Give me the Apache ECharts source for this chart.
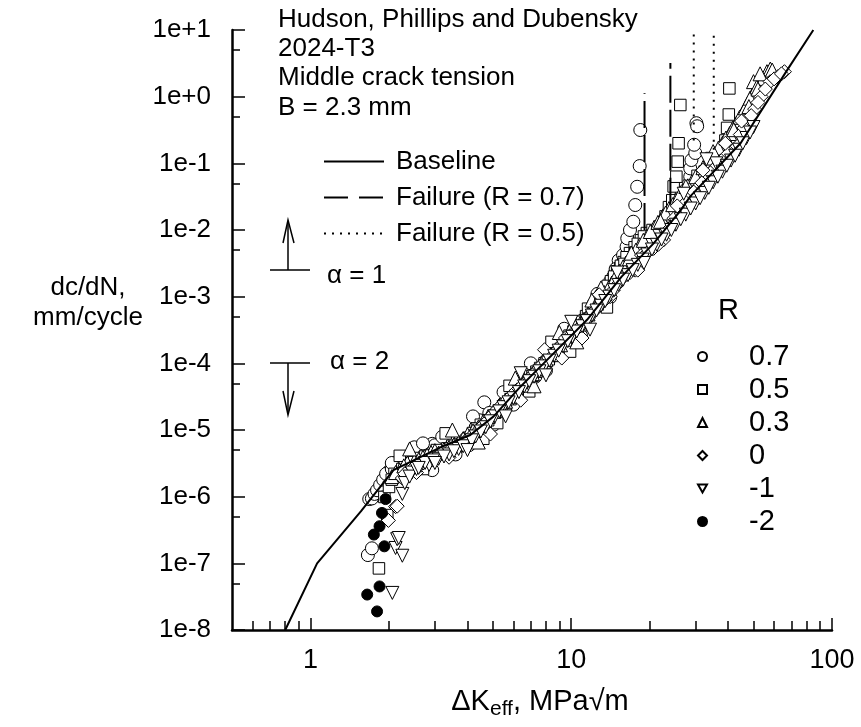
<!DOCTYPE html>
<html>
<head>
<meta charset="utf-8">
<script src="https://cdn.jsdelivr.net/npm/echarts@6/dist/echarts.min.js"></script>
<style>html,body{margin:0;padding:0;background:#fff}#c{width:861px;height:727px}</style>
</head>
<body>
<div id="c"></div>
<script>
// ---- tick values ----
const xTicksMajor = [1, 10, 100];
const xTicksMinor = [0.6, 0.7, 0.8, 0.9, 2, 3, 4, 5, 6, 7, 8, 9, 20, 30, 40, 50, 60, 70, 80, 90];
const yTicksMajor = [1e-8, 1e-7, 1e-6, 1e-5, 1e-4, 1e-3, 1e-2, 1e-1, 1, 10];
const yTicksMinor = [5e-8, 5e-7, 5e-6, 5e-5, 5e-4, 5e-3, 5e-2, 5e-1, 5];

// ---- baseline curve ----
const baseline = [[0.8,1e-8],[1.06,1.0e-7],[1.56,6e-7],[2.08,2.5e-6],[3.15,5.5e-6],[4.1,8.4e-6],[5.04,1.6e-5],[6.4,4.5e-5],[7.16,7e-5],[11.5,4.5e-4],[15.6,2e-3],[20.7,6.3e-3],[26.1,1.9e-2],[28.6,3.2e-2],[44.6,0.2],[67.3,2.5],[84.8,10]];

// ---- failure lines ----
const fail07a = [[19.1,0.01],[19.1,1.13]];
const fail07b = [[24.0,0.024],[24.0,3.2]];
const fail05a = [[29.5,0.22],[29.5,9.5]];
const fail05b = [[35.2,0.16],[35.2,9.5]];

// ---- data, R = 0.7 ----
const r07 = [[1.66,1.33e-7],[1.72,1.68e-7],[1.68,9.2e-7],[1.72,9.4e-7],[1.76,1.1e-6],[1.80,1.25e-6],[1.85,1.5e-6],[1.90,1.8e-6],
[2.0,2.4e-6],[2.1,2.9e-6],[2.2,3.0e-6],[2.3,3.5e-6],[2.45,4.0e-6],[2.6,4.6e-6],[2.76,4.7e-6],[2.93,6.2e-6],[2.93,2.5e-6],[3.1,5.6e-6],[3.3,6.0e-6],[3.5,5.0e-6],[3.8,6.5e-6],[4.05,5.9e-6],[4.3,1.1e-5],[4.64,2.6e-5],[5.04,1.2e-5],[5.3,2.0e-5],[5.8,3.0e-5],[6.34,3.7e-5],[6.8,5.0e-5],[7.28,6.3e-5],[7.8,9e-5],[8.3,1.2e-4],[9.0,1.6e-4],[9.7,2.3e-4],[10.5,3.5e-4],[11.3,4.8e-4],[12.2,7e-4],[13.0,9.5e-4],[13.8,1.4e-3],[14.5,2.0e-3],[15.2,3.5e-3],[15.8,4.2e-3],[16.3,5.6e-3],[16.4,7.5e-3],[16.8,1.0e-2],[17.3,1.33e-2],[17.6,2.37e-2],[17.9,4.45e-2],[18.3,9.1e-2],[18.4,0.316],
[19,5.5e-3],[20.5,8e-3],[22,1.2e-2],[23.5,1.8e-2],[25,2.5e-2],[26.5,3.5e-2],[27.5,4e-2],[28.3,5e-2],[28.6,6.3e-2],[28.6,8.4e-2],[28.9,0.112],[29.9,0.143],[29.6,0.19],[30.2,0.40],[30.4,0.36],
[1.95,2.2e-6],[2.05,2.6e-6],[2.15,3.3e-6],[2.25,2.6e-6],[2.35,3.9e-6],[2.5,3.1e-6],[2.55,4.3e-6],[2.7,5.3e-6],[2.85,4.1e-6],[3.0,5.9e-6],[3.2,4.6e-6],[3.4,6.8e-6],[3.65,5.4e-6],[3.95,7.5e-6],[4.2,8.0e-6],[4.45,1.4e-5],[4.85,1.8e-5],[5.5,2.5e-5],[6.0,3.6e-5],[6.6,5.8e-5],[7.0,7.5e-5],[7.5,8e-5],[8.0,1.1e-4],[8.7,1.5e-4],[9.4,2.1e-4],[10.1,2.9e-4],[10.9,4.3e-4],[11.7,6e-4],[12.6,8.5e-4],[13.4,1.25e-3],[14.1,1.7e-3],[14.8,2.6e-3],[15.5,3.0e-3],
[2.05,3.2e-6],[2.25,2.0e-6],[2.5,5.5e-6],[2.7,6.3e-6],[3.2,7.9e-6],[3.6,4.3e-6],[4.2,1.6e-5],[5.5,3.7e-5],[6.0,2.4e-5],[7.0,1.0e-4],[8.0,7.8e-5],[9.4,3.3e-4],[10.9,2.6e-4],[12.6,1.1e-3],[14.1,9.8e-4]];

// ---- R = 0.5 ----
const r05 = [[1.83,8.4e-8],[1.97,5.3e-7],[1.92,9.9e-7],[2.0,1.4e-6],[2.1,2.2e-6],[2.25,2.6e-6],[2.4,3.0e-6],[2.6,3.8e-6],[2.9,4.2e-6],[3.2,4.6e-6],[3.5,5.8e-6],[3.9,6.2e-6],[4.2,9e-6],[4.5,1.2e-5],[5.2,1.27e-5],[5.6,2.4e-5],[6.1,3.5e-5],[6.6,4.8e-5],[7.1,6.5e-5],[7.6,8.5e-5],[8.2,1.15e-4],[8.8,1.6e-4],[9.5,2.2e-4],[10.2,3.0e-4],[11,4.2e-4],[11.8,6e-4],[12.6,8.5e-4],[13.4,1.2e-3],[14.2,1.7e-3],[15,2.4e-3],[15.9,3.3e-3],[16.8,4.5e-3],[17.5,5.5e-3],[18.5,7e-3],[19.5,9e-3],[20.5,1.0e-2],[21.4,8e-3],[22.3,1.13e-2],[23.0,1.6e-2],[23.7,2.2e-2],[24.4,2.8e-2],[24.7,4.5e-2],[25.3,6.3e-2],[25.6,0.106],[25.8,0.2],[26.2,0.75],
[27,2.8e-2],[29,4e-2],[31,5.5e-2],[33,7.5e-2],[35,0.1],[36.5,0.12],[37.9,0.14],[39,0.22],[39.6,0.34],[40.2,0.54],[40.4,1.33],
[2.05,1.8e-6],[2.3,3.1e-6],[2.5,3.3e-6],[2.75,4.0e-6],[3.05,5.0e-6],[3.35,5.3e-6],[3.7,6.0e-6],[4.05,7.6e-6],[4.35,1.05e-5],[4.8,1.4e-5],[5.4,2.0e-5],[5.85,2.9e-5],[6.35,4.2e-5],[6.85,5.5e-5],[7.35,7.5e-5],[7.9,1.0e-4],[8.5,1.35e-4],[9.2,1.9e-4],[9.85,2.6e-4],[10.6,3.6e-4],[11.4,5.1e-4],[12.2,7.2e-4],[13.0,1.0e-3],[13.8,1.45e-3],[14.6,2.0e-3],[15.5,2.9e-3],[16.3,3.9e-3],[17.6,4.6e-3],[18.0,6.2e-3],[19.0,8e-3],[28,3.4e-2],[30,4.7e-2],[32,6.5e-2],[34,8.7e-2],
[2.2,4.1e-6],[2.7,2.6e-6],[3.3,8.9e-6],[4.6,7.4e-6],[5.8,4.6e-5],[6.9,3.8e-5],[8.4,2.1e-4],[9.9,1.5e-4],[11.6,6.6e-4],[13.7,6.9e-4],[16.0,3.1e-3],[30.5,6.5e-2],[34.5,0.12]];

// ---- R = 0.3 ----
const r03 = [[2.05,2.0e-6],[2.2,2.5e-6],[2.35,3.2e-6],[2.5,3.4e-6],[2.7,3.9e-6],[2.9,4.6e-6],[3.1,4.5e-6],[3.4,5.5e-6],[3.7,6.5e-6],[4.0,8.5e-6],[4.4,1.1e-5],[4.8,1.6e-5],[5.3,2.3e-5],[5.9,3.2e-5],[6.5,4.7e-5],[7.1,7e-5],[7.7,1.0e-4],[8.4,1.35e-4],[9.1,1.9e-4],[9.9,2.7e-4],[10.2,4.0e-4],[10.8,3.9e-4],[11.6,5.5e-4],[12.0,8.9e-4],[12.5,8e-4],[13.4,1.15e-3],[14.3,1.6e-3],[15.3,2.4e-3],[16.2,3.2e-3],[17.2,4.3e-3],[18.3,6e-3],[19.5,8e-3],[20.8,1.1e-2],[22.2,1.5e-2],[23.7,2.1e-2],[25.2,2.8e-2],[27,3.9e-2],[29,5.3e-2],[31,7.3e-2],[33,0.1],[35.5,0.14],[38,0.2],[40.5,0.28],[43,0.4],[45.5,0.58],[47.5,0.8],[49.7,1.1],[50,1.68],[54.6,1.88],[56.3,2.37],[58,2.6],
[2.12,2.3e-6],[2.28,2.9e-6],[2.6,3.6e-6],[2.8,4.2e-6],[3.0,4.9e-6],[3.25,5.1e-6],[3.55,6.0e-6],[3.85,7.4e-6],[4.2,9.7e-6],[4.6,1.35e-5],[5.05,1.9e-5],[5.6,2.7e-5],[6.2,3.9e-5],[6.8,5.7e-5],[7.4,8.3e-5],[8.0,1.15e-4],[8.7,1.6e-4],[9.5,2.3e-4],[11.2,4.6e-4],[12.9,9.6e-4],[13.9,1.35e-3],[14.8,2.0e-3],[15.8,2.8e-3],[16.7,3.7e-3],[17.7,5.0e-3],[18.9,7e-3],[20.1,9.5e-3],[21.5,1.3e-2],[23,1.8e-2],[24.5,2.4e-2],[26,3.3e-2],[28,4.6e-2],[30,6.3e-2],[32,8.6e-2],[34.2,0.12],[36.7,0.17],[39.2,0.24],[41.7,0.34],[44.2,0.49],[46.5,0.68],[48.5,0.95],[51.5,1.4],[53,2.2],[59,2.5],
[2.4,5.2e-6],[3.5,1.0e-5],[4.4,6.6e-6],[6.1,6.0e-5],[7.2,4.6e-5],[9.0,2.9e-4],[10.5,2.1e-4],[13.0,1.35e-3],[17.0,4.5e-3],[22.0,1.35e-2],[27.5,4.5e-2],[35,0.15],[42,0.32],[48,0.71],[52,1.3]];

// ---- R = 0 ----
const r00 = [[1.99,4.4e-7],[2.12,7.1e-7],[2.15,7.2e-7],[2.25,1.9e-6],[2.4,2.6e-6],[2.6,3.0e-6],[2.8,3.5e-6],[3.05,4.0e-6],[3.3,4.9e-6],[3.6,5.6e-6],[3.95,7e-6],[4.3,9e-6],[4.7,1.3e-5],[5.1,1.9e-5],[5.6,2.7e-5],[6.2,4e-5],[6.8,5.5e-5],[7.4,8e-5],[8.0,1.1e-4],[8.7,1.5e-4],[9.5,2.4e-4],[10.3,2.9e-4],[11.2,4e-4],[12,5.6e-4],[13.0,7.8e-4],[14.1,1.0e-3],[15.0,1.5e-3],[16.1,2.1e-3],[17.6,2.5e-3],[18.6,4.2e-3],[20.7,5.3e-3],[22.6,7.1e-3],[23.8,1.05e-2],[24.8,1.5e-2],[26.5,2.1e-2],[28.5,3.1e-2],[30.5,4.3e-2],[33,6e-2],[35.5,8.5e-2],[38.5,0.12],[42,0.16],[43.3,0.18],[44.5,0.27],[47.5,0.42],[50.5,0.65],[53.5,1.0],[57.9,1.68],[62,2.0],[65.7,2.37],
[2.3,2.2e-6],[2.5,2.8e-6],[2.7,3.2e-6],[2.9,3.8e-6],[3.15,4.4e-6],[3.45,5.2e-6],[3.8,6.2e-6],[4.1,7.8e-6],[4.5,1.1e-5],[4.9,1.6e-5],[5.35,2.3e-5],[5.9,3.3e-5],[6.5,4.7e-5],[7.1,6.7e-5],[7.7,9.5e-5],[8.35,1.3e-4],[9.05,1.8e-4],[9.9,2.6e-4],[10.7,3.4e-4],[11.6,4.7e-4],[12.5,6.6e-4],[13.5,9e-4],[14.5,1.25e-3],[15.5,1.8e-3],[16.8,2.3e-3],[19.6,4.6e-3],[21.6,6.1e-3],[27.5,2.6e-2],[29.5,3.7e-2],[31.7,5.1e-2],[34.2,7.2e-2],[37,0.1],[40,0.14],[46,0.34],[49,0.52],[52,0.82],[55.5,1.3],[60,1.85],[64,2.2],
[2.55,2.3e-6],[3.4,3.9e-6],[4.9,8.7e-6],[6.4,2.8e-5],[7.9,1.6e-4],[9.2,1.2e-4],[11.0,2.4e-4],[12.8,1.07e-3],[18.0,2.5e-3],[25.5,2.3e-2],[32,7.9e-2],[39,0.2],[45,0.43]];

// ---- R = -1 ----
const rm1 = [[2.06,3.6e-8],[2.12,1.7e-7],[2.25,1.3e-7],[2.15,2.3e-7],[2.18,2.4e-7],[2.25,1.1e-6],[2.3,1.6e-6],[2.45,2.3e-6],[2.65,2.9e-6],[2.85,3.0e-6],[3.1,3.7e-6],[3.4,4.3e-6],[3.7,5.2e-6],[4.0,6.2e-6],[4.3,8e-6],[4.7,1.1e-5],[5.1,1.6e-5],[5.5,2.2e-5],[6.0,3.0e-5],[6.6,4.5e-5],[7.2,6.3e-5],[7.9,9e-5],[8.6,1.3e-4],[9.3,1.8e-4],[10.1,2.5e-4],[11,3.6e-4],[12,5.2e-4],[13,7.3e-4],[14,1.0e-3],[15.2,1.5e-3],[16.5,2.1e-3],[18,3.0e-3],[19.6,4.3e-3],[21.3,6e-3],[23.2,8.5e-3],[25.2,1.2e-2],[27.5,1.7e-2],[30,2.5e-2],[32.5,3.6e-2],[35,5.2e-2],[36,0.1],[38,7.5e-2],[41,0.11],[44,0.16],[47,0.24],[50,0.35],
[2.4,2.0e-6],[2.55,2.6e-6],[2.75,3.2e-6],[2.95,3.5e-6],[3.25,4.0e-6],[3.55,4.8e-6],[3.85,5.7e-6],[4.15,7.0e-6],[4.5,9.5e-6],[4.9,1.35e-5],[5.3,1.9e-5],[5.75,2.6e-5],[6.3,3.7e-5],[6.9,5.4e-5],[7.55,7.6e-5],[8.25,1.1e-4],[8.95,1.55e-4],[9.7,2.15e-4],[10.5,3e-4],[11.5,4.3e-4],[12.5,6.2e-4],[13.5,8.6e-4],[14.6,1.25e-3],[15.8,1.8e-3],[17.2,2.5e-3],[18.8,3.6e-3],[20.4,5.1e-3],[22.2,7.2e-3],[24.2,1.0e-2],[26.3,1.45e-2],[28.7,2.1e-2],[31.2,3.0e-2],[33.7,4.3e-2],[36.5,6.3e-2],[39.5,9.2e-2],[42.5,0.13],[45.5,0.2],[48.5,0.29],
[2.6,2.7e-6],[3.0,3.2e-6],[4.0,5.0e-6],[5.6,1.6e-5],[6.4,7.1e-5],[8.0,6.6e-5],[10.0,4.2e-4],[11.8,3.2e-4],[15.0,2.3e-3],[19.0,3.2e-3],[27,3.5e-2],[33,0.115]];

// ---- R = -2 ----
const rm2 = [[1.65,3.4e-8],[1.80,1.9e-8],[1.84,4.5e-8],[1.92,1.8e-7],[1.75,2.7e-7],[1.84,3.6e-7],[1.88,5.7e-7],[1.94,9.2e-7]];

const FONT = '"Liberation Sans", Arial, sans-serif';
const INV_TRI = 'path://M0,0 L10,0 L5,9 Z';

function scatter(name, data, symbol, size, filled) {
  return {
    name, type: 'scatter', data, symbol, symbolSize: size,
    xAxisIndex: 0, yAxisIndex: 0,
    itemStyle: { color: filled ? '#000' : '#fff', borderColor: '#000', borderWidth: 1, opacity: 1 },
    z: 3
  };
}
function vline(name, data, dash) {
  return { name, type: 'line', data, symbol: 'none', showSymbol: false,
    itemStyle: { color: '#000' },
    lineStyle: { color: '#000', width: 2, type: dash }, z: 4 };
}

const chart = echarts.init(document.getElementById('c'), null, { renderer: 'canvas' });

const axisCommon = {
  type: 'log', logBase: 10,
  axisLine: { show: true, lineStyle: { color: '#000', width: 2.5 } },
  splitLine: { show: false },
  minorTick: { show: false }
};

const option = {
  animation: false,
  backgroundColor: '#fff',
  grid: { left: 232, right: 29, top: 30, bottom: 97, outerBoundsMode: 'none', containLabel: false },
  xAxis: [
    Object.assign({}, axisCommon, {
      min: 0.5, max: 100,
      axisTick: { show: true, inside: true, length: 12, lineStyle: { color: '#000', width: 1.5 }, customValues: xTicksMajor },
      axisLabel: { show: true, customValues: xTicksMajor, margin: 17, color: '#000', fontSize: 27, fontFamily: FONT,
        formatter: v => String(Math.round(v)) }
    }),
    Object.assign({}, axisCommon, {
      min: 0.5, max: 100, position: 'bottom',
      axisLine: { show: false },
      axisTick: { show: true, inside: true, length: 9, lineStyle: { color: '#000', width: 1.5 }, customValues: xTicksMinor },
      axisLabel: { show: false }
    })
  ],
  yAxis: [
    Object.assign({}, axisCommon, {
      min: 1e-8, max: 10,
      axisTick: { show: true, inside: true, length: 13, lineStyle: { color: '#000', width: 1.5 }, customValues: yTicksMajor },
      axisLabel: { show: true, customValues: yTicksMajor, margin: 21, color: '#000', fontSize: 26, fontFamily: FONT,
        formatter: v => { const e = Math.round(Math.log10(v)); return '1e' + (e >= 0 ? '+' : '') + e; } }
    }),
    Object.assign({}, axisCommon, {
      min: 1e-8, max: 10, position: 'left',
      axisLine: { show: false },
      axisTick: { show: true, inside: true, length: 8, lineStyle: { color: '#000', width: 1.5 }, customValues: yTicksMinor },
      axisLabel: { show: false }
    })
  ],
  legend: [
    {
      left: 318, top: 143, orient: 'vertical', itemWidth: 60, itemHeight: 14, itemGap: 9,
      itemStyle: { opacity: 0 },
      textStyle: { fontSize: 26, fontFamily: FONT, color: '#000', padding: [0, 0, 0, 7], lineHeight: 27 },
      selectedMode: false,
      data: [
        { name: 'Baseline' },
        { name: 'Failure (R = 0.7)', lineStyle: { type: [24, 11] } },
        { name: 'Failure (R = 0.5)', lineStyle: { type: [2, 6] } }
      ]
    },
    {
      left: 692, top: 337, orient: 'vertical', itemWidth: 9, itemHeight: 9, itemGap: 4,
      textStyle: { fontSize: 29, fontFamily: FONT, color: '#000', padding: [0, 0, 0, 37], lineHeight: 29 },
      selectedMode: false,
      data: ['0.7', '0.5', '0.3', '0', '-1', '-2']
    }
  ],
  series: [
    scatter('0.7', r07, 'circle', 13, false),
    scatter('0.5', r05, 'rect', 11.5, false),
    scatter('0.3', r03, 'triangle', 14, false),
    scatter('0', r00, 'diamond', 14, false),
    scatter('-1', rm1, INV_TRI, 13, false),
    scatter('-2', rm2, 'circle', 11, true),
    { name: 'Baseline', type: 'line', data: baseline, symbol: 'none', showSymbol: false,
      itemStyle: { color: '#000' },
      lineStyle: { color: '#000', width: 2 }, z: 5 },
    vline('Failure (R = 0.7)', fail07a, [27, 7]),
    vline('Failure (R = 0.7)', fail07b, [27, 7]),
    vline('Failure (R = 0.5)', fail05a, [2, 6]),
    vline('Failure (R = 0.5)', fail05b, [2, 6])
  ],
  graphic: [
    { type: 'text', left: 278, top: 5, z: 10,
      style: { text: 'Hudson, Phillips and Dubensky\n2024-T3\nMiddle crack tension\nB = 2.3 mm',
        font: '26px ' + FONT, fill: '#000', lineHeight: 29.3 } },
    { type: 'text', x: 88, y: 303, z: 10,
      style: { text: 'dc/dN,\nmm/cycle', font: '26px ' + FONT, fill: '#000', lineHeight: 30, align: 'center', verticalAlign: 'middle' } },
    { type: 'text', x: 540, y: 702, z: 10,
      style: { text: '{a|ΔK}{s|eff}{a|, MPa√m}', align: 'center', verticalAlign: 'middle',
        rich: { a: { font: '29px ' + FONT, fill: '#000' }, s: { font: '21px ' + FONT, fill: '#000', padding: [15, 0, 0, 0] } } } },
    { type: 'text', x: 718, y: 311, z: 10,
      style: { text: 'R', font: '29px ' + FONT, fill: '#000', verticalAlign: 'middle' } },
    { type: 'text', x: 327, y: 276, z: 10,
      style: { text: 'α = 1', font: '26px ' + FONT, fill: '#000', verticalAlign: 'middle' } },
    { type: 'text', x: 330, y: 362, z: 10,
      style: { text: 'α = 2', font: '26px ' + FONT, fill: '#000', verticalAlign: 'middle' } },
    // alpha = 1 arrow
    { type: 'line', shape: { x1: 270, y1: 270, x2: 310, y2: 270 }, style: { stroke: '#000', lineWidth: 1.5 } },
    { type: 'line', shape: { x1: 288, y1: 270, x2: 288, y2: 221 }, style: { stroke: '#000', lineWidth: 1.5 } },
    { type: 'polyline', shape: { points: [[283, 243], [288, 220], [294, 243]] }, style: { stroke: '#000', lineWidth: 1.5, fill: null } },
    // alpha = 2 arrow
    { type: 'line', shape: { x1: 270, y1: 363, x2: 310, y2: 363 }, style: { stroke: '#000', lineWidth: 1.5 } },
    { type: 'line', shape: { x1: 288, y1: 363, x2: 288, y2: 414 }, style: { stroke: '#000', lineWidth: 1.5 } },
    { type: 'polyline', shape: { points: [[283, 391], [288, 415], [294, 391]] }, style: { stroke: '#000', lineWidth: 1.5, fill: null } }
  ]
};
chart.setOption(option);
</script>
</body>
</html>
